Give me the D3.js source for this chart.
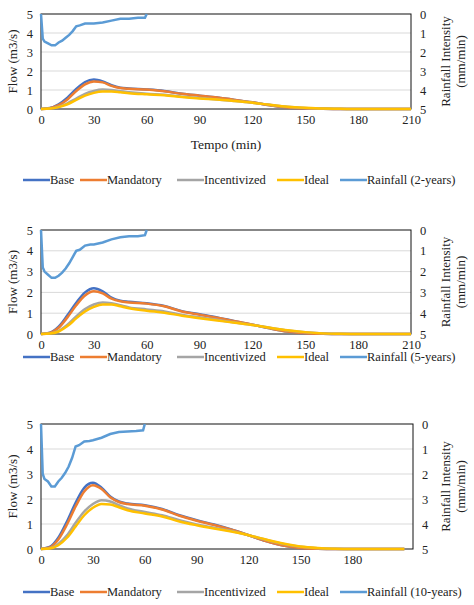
<!DOCTYPE html>
<html><head><meta charset="utf-8">
<script src="https://cdn.jsdelivr.net/npm/d3@7"></script>
<style>body{margin:0;background:#fff}svg text{font-family:"Liberation Serif","Times New Roman","DejaVu Serif",serif !important;fill:#222}</style>
</head><body>
<script>
// time grid for flows (min)
var times = [0,5,10,15,20,25,30,35,40,45,50,60,70,80,90,100,110,120,130,140,150,160,170,180,210];
var rainTimes = [0,1,2,4,6,8,10,12,14,16,18,20,22,25,28,30,35,40,45,50,55,59,60];
var seriesNames = ['Base','Mandatory','Incentivized','Ideal'];
var colors = ['#4472C4','#ED7D31','#A5A5A5','#FFC000'];
var rainColor = '#5B9BD5';

var base2 = [0,0.05,0.25,0.6,1.05,1.42,1.55,1.45,1.25,1.12,1.08,1.03,0.95,0.8,0.7,0.6,0.48,0.35,0.2,0.08,0.03,0.01,0,0,0];
var mand2 = [0,0.04,0.2,0.5,0.95,1.3,1.45,1.4,1.22,1.1,1.06,1.02,0.93,0.8,0.7,0.6,0.48,0.35,0.2,0.08,0.03,0.01,0,0,0];
var inc2 = [0,0.02,0.12,0.3,0.55,0.8,0.95,1.02,1.0,0.93,0.88,0.8,0.75,0.65,0.58,0.5,0.42,0.33,0.22,0.12,0.05,0.02,0.01,0,0];
var ideal2 = [0,0.02,0.1,0.25,0.48,0.7,0.85,0.92,0.92,0.88,0.83,0.77,0.72,0.63,0.55,0.5,0.42,0.33,0.22,0.12,0.06,0.02,0.01,0,0];
var rain2 = [0,1.3,1.45,1.55,1.65,1.65,1.5,1.4,1.25,1.1,0.9,0.65,0.6,0.5,0.5,0.5,0.45,0.35,0.25,0.25,0.2,0.2,0];

var base5 = [0,0.06,0.35,0.9,1.5,2.0,2.2,2.05,1.75,1.6,1.55,1.48,1.35,1.1,0.95,0.8,0.62,0.45,0.27,0.12,0.04,0.01,0,0,0];
var mand5 = [0,0.05,0.3,0.8,1.38,1.85,2.05,1.95,1.7,1.57,1.52,1.46,1.33,1.08,0.93,0.78,0.61,0.45,0.27,0.12,0.04,0.01,0,0,0];
var inc5 = [0,0.03,0.15,0.45,0.85,1.2,1.42,1.52,1.48,1.38,1.28,1.18,1.08,0.92,0.8,0.68,0.55,0.43,0.3,0.17,0.08,0.03,0.01,0,0];
var ideal5 = [0,0.02,0.12,0.38,0.75,1.08,1.3,1.42,1.42,1.33,1.24,1.12,1.02,0.88,0.76,0.65,0.54,0.43,0.3,0.18,0.09,0.03,0.01,0,0];
var rain5 = [0,1.8,2.0,2.15,2.3,2.3,2.2,2.05,1.85,1.6,1.3,1.0,0.95,0.75,0.7,0.7,0.6,0.45,0.35,0.3,0.3,0.25,0];

var base10 = [0,0.08,0.45,1.1,1.85,2.45,2.65,2.45,2.1,1.9,1.82,1.75,1.6,1.35,1.15,0.98,0.78,0.55,0.32,0.14,0.04,0.01,0,0,0];
var mand10 = [0,0.06,0.38,0.98,1.7,2.3,2.55,2.4,2.07,1.88,1.8,1.73,1.58,1.33,1.13,0.96,0.77,0.55,0.32,0.14,0.04,0.01,0,0,0];
var inc10 = [0,0.03,0.2,0.55,1.05,1.5,1.8,1.95,1.9,1.75,1.62,1.48,1.35,1.15,0.98,0.85,0.72,0.55,0.37,0.2,0.09,0.03,0.01,0,0];
var ideal10 = [0,0.02,0.15,0.45,0.9,1.35,1.65,1.8,1.78,1.67,1.55,1.42,1.3,1.1,0.95,0.82,0.7,0.55,0.38,0.22,0.1,0.04,0.01,0,0];
var rain10 = [0,2.0,2.2,2.3,2.5,2.5,2.3,2.15,1.95,1.7,1.35,0.9,0.85,0.7,0.68,0.65,0.55,0.4,0.32,0.3,0.28,0.25,0];

var panels = [
  {top:14, bottom:109, right:411, xmax:210, ticks:[0,30,60,90,120,150,180,210], title:true, legendY:180, label:'Rainfall (2-years)', flows:[base2,mand2,inc2,ideal2], rain:rain2},
  {top:230, bottom:334, right:411, xmax:210, ticks:[0,30,60,90,120,150,180,210], title:false, legendY:357, label:'Rainfall (5-years)', flows:[base5,mand5,inc5,ideal5], rain:rain5},
  {top:424, bottom:549, right:413, xmax:215, ticks:[0,30,60,90,120,150,180], title:false, legendY:592, label:'Rainfall (10-years)', flows:[base10,mand10,inc10,ideal10], rain:rain10}
];

var svg = d3.select('body').append('svg').attr('width', 474).attr('height', 605);
var left = 41;
var fs = '12.5px';

panels.forEach(function (p) {
  var x = d3.scaleLinear().domain([0, p.xmax]).range([left, p.right]);
  var y = d3.scaleLinear().domain([0, 5]).range([p.bottom, p.top]);
  var yr = d3.scaleLinear().domain([0, 5]).range([p.top, p.bottom]);
  var g = svg.append('g');

  g.selectAll('.grid').data([1,2,3,4]).enter().append('line')
    .attr('x1', left).attr('x2', p.right)
    .attr('y1', d => y(d)).attr('y2', d => y(d))
    .attr('stroke', '#d9d9d9').attr('stroke-width', 1);

  var xa = g.append('g').attr('transform', 'translate(0,' + p.bottom + ')')
    .call(d3.axisBottom(x).tickValues(p.ticks).tickSize(0).tickPadding(6));
  var ya = g.append('g').attr('transform', 'translate(' + left + ',0)')
    .call(d3.axisLeft(y).ticks(5).tickSize(0).tickPadding(8));
  var ra = g.append('g').attr('transform', 'translate(' + p.right + ',0)')
    .call(d3.axisRight(yr).ticks(5).tickSize(0).tickPadding(9));
  [xa, ya, ra].forEach(function (a) {
    a.attr('font-family', null).attr('font-size', null);
    a.select('.domain').remove();
    a.selectAll('text').style('font-size', fs);
  });

  g.append('rect').attr('x', left).attr('y', p.top)
    .attr('width', p.right - left).attr('height', p.bottom - p.top)
    .attr('fill', 'none').attr('stroke', '#111').attr('stroke-width', 1);

  var line = d3.line().x((d, i) => x(times[i])).y(d => y(d)).curve(d3.curveMonotoneX);
  p.flows.forEach(function (arr, k) {
    g.append('path').datum(arr).attr('d', line)
      .attr('fill', 'none').attr('stroke', colors[k]).attr('stroke-width', 2.5);
  });
  var rline = d3.line().x((d, i) => x(rainTimes[i])).y(d => yr(d));
  g.append('path').datum(p.rain).attr('d', rline)
    .attr('fill', 'none').attr('stroke', rainColor).attr('stroke-width', 2.5);

  var my = (p.top + p.bottom) / 2;
  g.append('text').attr('transform', 'translate(17,' + my + ') rotate(-90)')
    .attr('text-anchor', 'middle').style('font-size', '13px').text('Flow  (m3/s)');
  g.append('text').attr('transform', 'translate(450,' + my + ') rotate(-90)')
    .attr('text-anchor', 'middle').style('font-size', '13px').text('Rainfall Intensity');
  g.append('text').attr('transform', 'translate(465,' + my + ') rotate(-90)')
    .attr('text-anchor', 'middle').style('font-size', '13px').text('(mm/min)');
  if (p.title) {
    g.append('text').attr('x', (left + p.right) / 2).attr('y', p.bottom + 40)
      .attr('text-anchor', 'middle').style('font-size', '13.5px').text('Tempo (min)');
  }

  var items = seriesNames.map((n, i) => ({name: n, color: colors[i]}))
    .concat([{name: p.label, color: rainColor}]);
  var lx = [23, 80, 177, 277, 340];
  items.forEach(function (it, i) {
    g.append('line').attr('x1', lx[i]).attr('x2', lx[i] + 27)
      .attr('y1', p.legendY).attr('y2', p.legendY)
      .attr('stroke', it.color).attr('stroke-width', 2.5);
    g.append('text').attr('x', lx[i] + 27).attr('y', p.legendY + 4)
      .style('font-size', fs).text(it.name);
  });
});
</script>
</body></html>
